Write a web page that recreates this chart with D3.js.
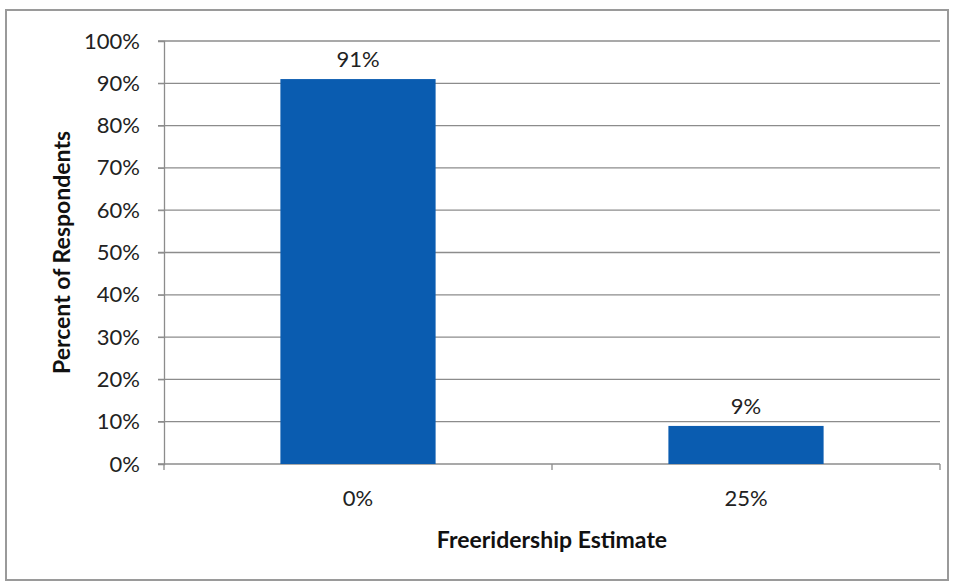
<!DOCTYPE html>
<html>
<head>
<meta charset="utf-8">
<script src="https://cdn.jsdelivr.net/npm/d3@7"></script>
<style>
  body { margin: 0; background: #fff; }
  svg { display: block; font-family: Lato, "Open Sans", sans-serif; }
</style>
</head>
<body>
<div id="chart"></div>
<script>
// data
const categories = ['0%', '25%']
const values = [91, 9]
const yTicks = [0, 10, 20, 30, 40, 50, 60, 70, 80, 90, 100]
const xTitle = 'Freeridership Estimate'
const yTitle = 'Percent of Respondents'

const W = 954, H = 583
const margin = { top: 41, right: 14, bottom: 119, left: 164 }
const width = W - margin.left - margin.right
const height = H - margin.top - margin.bottom

const svg = d3.select('#chart').append('svg')
  .attr('width', W)
  .attr('height', H)

// outer frame
svg.append('rect')
  .attr('x', 6).attr('y', 10)
  .attr('width', 942).attr('height', 570)
  .attr('fill', 'none')
  .attr('stroke', '#9a9a9a')
  .attr('stroke-width', 2)

const g = svg.append('g')
  .attr('transform', `translate(${margin.left},${margin.top})`)

const xSc = d3.scaleBand()
  .domain(categories)
  .range([0, width])
  .paddingInner(0.6)
  .paddingOuter(0.3)

const ySc = d3.scaleLinear()
  .domain([0, 100])
  .range([height, 0])

// grid lines
g.append('g').classed('grid', true)
  .selectAll('line')
  .data(yTicks)
  .join('line')
    .attr('x1', -6).attr('x2', width)
    .attr('y1', d => ySc(d)).attr('y2', d => ySc(d))
    .attr('stroke', '#8c8c8c')
    .attr('stroke-width', 1.3)

// y axis
const yAxis = g.append('g')
  .call(d3.axisLeft(ySc).tickValues(yTicks).tickFormat(d => d + '%').tickSize(6).tickPadding(18))
yAxis.select('.domain').attr('stroke', '#8c8c8c').attr('stroke-width', 1.3)
yAxis.selectAll('.tick line').attr('stroke', '#8c8c8c')
yAxis.selectAll('text')
  .attr('fill', '#222')
  .style('font-size', '22px')
  .style('font-family', 'Lato, sans-serif')

// x axis
const xAxis = g.append('g')
  .attr('transform', `translate(0,${height})`)
  .call(d3.axisBottom(xSc).tickSize(0).tickPadding(26))
xAxis.select('.domain').remove()
xAxis.selectAll('text')
  .attr('fill', '#222')
  .style('font-size', '22px')
  .style('font-family', 'Lato, sans-serif')

// category boundary ticks
const bounds = [0, width / 2, width]
g.append('g').selectAll('line')
  .data(bounds)
  .join('line')
    .attr('x1', d => d).attr('x2', d => d)
    .attr('y1', height).attr('y2', height + 6)
    .attr('stroke', '#8c8c8c')
    .attr('stroke-width', 1.3)

// bars
g.append('g').selectAll('rect')
  .data(values)
  .join('rect')
    .attr('x', (d, i) => xSc(categories[i]))
    .attr('y', d => ySc(d))
    .attr('width', xSc.bandwidth())
    .attr('height', d => ySc(0) - ySc(d))
    .attr('fill', '#0a5cb0')

// value labels
g.append('g').selectAll('text')
  .data(values)
  .join('text')
    .attr('x', (d, i) => xSc(categories[i]) + xSc.bandwidth() / 2)
    .attr('y', d => ySc(d) - 12)
    .attr('text-anchor', 'middle')
    .attr('fill', '#222')
    .style('font-size', '22px')
    .text(d => d + '%')

// axis titles
svg.append('text')
  .attr('x', margin.left + width / 2)
  .attr('y', 548)
  .attr('text-anchor', 'middle')
  .attr('fill', '#111')
  .style('font-size', '23px')
  .style('font-weight', 'bold')
  .text(xTitle)

svg.append('text')
  .attr('transform', `translate(70,${margin.top + height / 2}) rotate(-90)`)
  .attr('text-anchor', 'middle')
  .attr('fill', '#111')
  .style('font-size', '23px')
  .style('font-weight', 'bold')
  .text(yTitle)
</script>
</body>
</html>
